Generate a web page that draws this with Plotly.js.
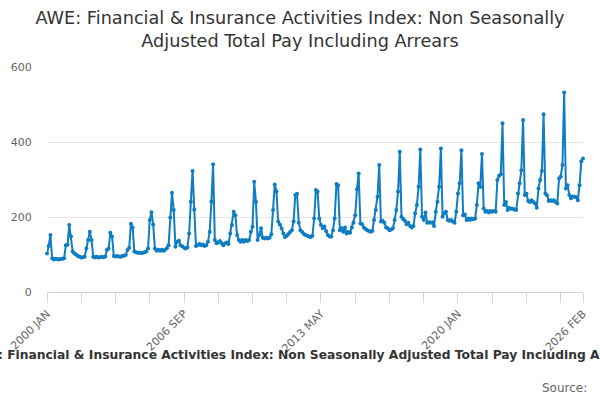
<!DOCTYPE html>
<html>
<head>
<meta charset="utf-8">
<script src="https://cdn.plot.ly/plotly-3.0.1.min.js"></script>
<style>
  html, body { margin: 0; padding: 0; background: #fff; }
  #chart { width: 600px; height: 400px; }
</style>
</head>
<body>
<div id="chart"></div>
<script>
var months = ['JAN','FEB','MAR','APR','MAY','JUN','JUL','AUG','SEP','OCT','NOV','DEC'];
var firstYear = 2000;

// index values, one row per year, Jan..Dec
var pay2000s = [
  103, 123, 152,  90,  87,  89,  88,  87,  88,  89,  90, 125,
  126, 179, 148, 108, 103, 100,  96,  94,  92,  93,  94, 116,
  139, 161, 139,  94,  92,  94,  92,  93,  94,  93,  95, 112,
  116, 158, 148,  96,  95,  96,  95,  94,  96,  97,  99, 112,
  118, 182, 172, 108, 106, 105, 105, 104, 105, 106, 108, 116,
  192, 213, 180, 116, 110, 113, 110, 113, 110, 113, 117, 125,
  199, 265, 219, 121, 134, 137, 125, 122, 118, 116, 119, 156,
  241, 323, 220, 123, 125, 128, 125, 127, 123, 125, 134, 160,
  241, 341, 139, 130, 133, 136, 130, 125, 130, 132, 128, 156,
  179, 214, 205, 152, 139, 134, 139, 134, 139, 136, 139, 161
];
var pay2010s = [
  174, 294, 241, 139, 152, 170, 145, 143, 145, 143, 145, 154,
  219, 287, 268, 188, 180, 170, 156, 147, 150, 155, 160, 165,
  188, 259, 262, 185, 165, 160, 155, 152, 150, 148, 147, 150,
  196, 272, 268, 196, 179, 170, 175, 162, 152, 148, 148, 165,
  196, 288, 285, 165, 170, 161, 172, 156, 160, 158, 172, 185,
  205, 274, 316, 183, 181, 172, 168, 165, 163, 161, 163, 192,
  219, 254, 339, 188, 190, 185, 172, 170, 165, 167, 170, 192,
  219, 268, 374, 201, 195, 190, 181, 185, 176, 172, 176, 210,
  232, 281, 380, 201, 192, 212, 185, 186, 185, 186, 176, 214,
  241, 281, 383, 201, 210, 214, 192, 190, 192, 188, 185, 214
];
var pay2020s = [
  263, 290, 378, 205, 207, 192, 196, 192, 196, 194, 196, 232,
  290, 280, 368, 223, 214, 216, 212, 216, 214, 216, 214, 299,
  310, 314, 450, 232, 240, 219, 224, 222, 222, 220, 219, 263,
  290, 325, 459, 259, 262, 243, 240, 245, 240, 236, 225, 276,
  299, 323, 474, 263, 258, 243, 245, 243, 245, 240, 236, 303,
  308, 339, 532, 276, 285, 259, 250, 255, 254, 253, 245, 285,
  349, 356
];

var labelledTicks = ['2000 JAN', '2006 SEP', '2013 MAY', '2020 JAN', '2026 FEB'];
var yTicks = [0, 200, 400, 600];

var values = pay2000s.concat(pay2010s, pay2020s);
var dates = values.map(function (v, i) {
  return (firstYear + Math.floor(i / 12)) + ' ' + months[i % 12];
});

// tick every 20 months plus the last month, labels only on some
var tickvals = [];
for (var i = 0; i < dates.length - 1; i += 20) tickvals.push(dates[i]);
tickvals.push(dates[dates.length - 1]);
var ticktext = tickvals.map(function (d) {
  return labelledTicks.indexOf(d) >= 0 ? d : '';
});

var series = {
  x: dates,
  y: values,
  type: 'scatter',
  mode: 'lines+markers',
  line: {color: '#0f7dc2', width: 2},
  marker: {color: '#0f7dc2', size: 4},
  cliponaxis: false,
  hoverinfo: 'x+y'
};

var title = 'AWE: Financial & Insurance Activities Index: Non Seasonally Adjusted Total Pay Including Arrears';

var layout = {
  width: 600,
  height: 400,
  margin: {l: 47, r: 17, t: 67, b: 108},
  paper_bgcolor: '#ffffff',
  plot_bgcolor: '#ffffff',
  showlegend: false,
  font: {family: 'DejaVu Sans, sans-serif', color: '#666666', size: 11},
  title: {
    text: 'AWE: Financial & Insurance Activities Index: Non Seasonally<br>Adjusted Total Pay Including Arrears',
    font: {family: 'DejaVu Sans, sans-serif', size: 17.7, color: '#333333'},
    x: 0.5, xref: 'container', xanchor: 'center',
    y: 0.94, yref: 'container', yanchor: 'middle'
  },
  xaxis: {
    type: 'category',
    range: [0, dates.length - 1],
    tickmode: 'array',
    tickvals: tickvals,
    ticktext: ticktext,
    tickangle: -45,
    ticks: 'outside',
    ticklen: 10,
    tickcolor: '#ccd6eb',
    showline: true,
    linecolor: '#ccd6eb',
    linewidth: 1,
    showgrid: false,
    zeroline: false,
    tickfont: {size: 11, color: '#666666'}
  },
  yaxis: {
    range: [0, 600],
    tickmode: 'array',
    tickvals: yTicks,
    showgrid: true,
    gridcolor: '#e6e6e6',
    zeroline: false,
    showline: false,
    ticks: 'outside',
    ticklen: 12,
    tickcolor: 'rgba(0,0,0,0)',
    tickfont: {size: 11, color: '#666666'}
  },
  annotations: [
    {
      text: '<b>' + title + '</b>',
      xref: 'paper', yref: 'paper',
      x: 0.4813, y: -0.28,
      xanchor: 'center', yanchor: 'middle',
      showarrow: false,
      font: {family: 'DejaVu Sans, sans-serif', size: 12.3, color: '#333333'}
    },
    {
      text: 'Source:',
      xref: 'paper', yref: 'paper',
      x: 1.0112, y: -0.427,
      xanchor: 'right', yanchor: 'middle',
      showarrow: false,
      font: {family: 'DejaVu Sans, sans-serif', size: 12, color: '#666666'}
    }
  ]
};

Plotly.newPlot('chart', [series], layout, {staticPlot: true, displayModeBar: false});
</script>
</body>
</html>
